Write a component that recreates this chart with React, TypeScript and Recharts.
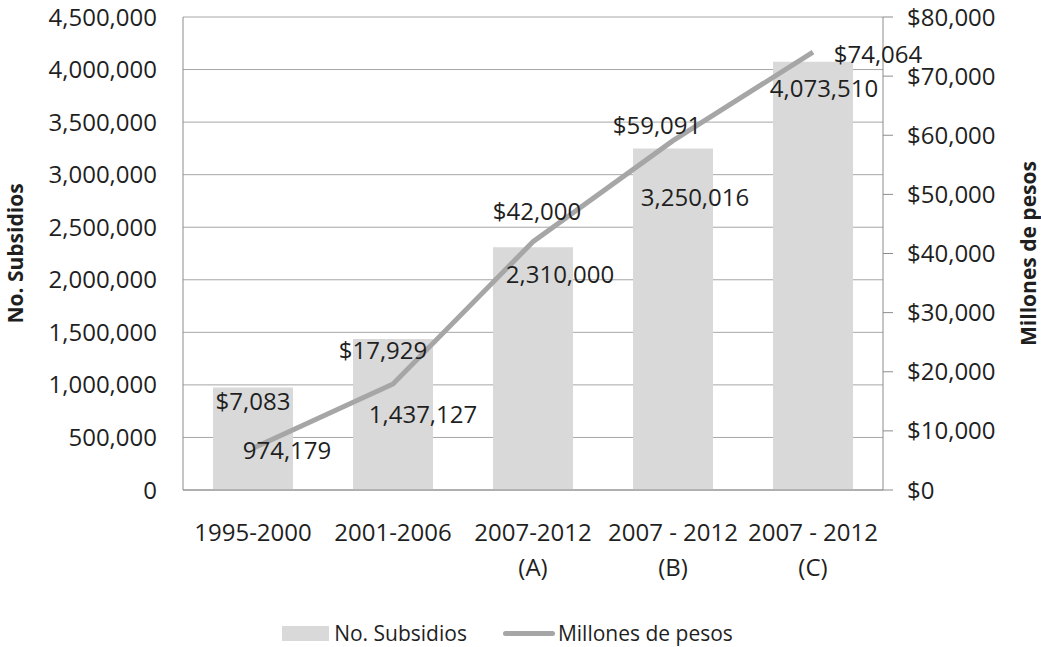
import React from "react";
import { ComposedChart, Bar, Line, XAxis, YAxis, CartesianGrid, Legend, LabelList } from "recharts";

const CATEGORIES = ["1995-2000", "2001-2006", "2007-2012\n(A)", "2007 - 2012\n(B)", "2007 - 2012\n(C)"];
const SUBSIDIOS = [974179, 1437127, 2310000, 3250016, 4073510];
const MILLONES = [7083, 17929, 42000, 59091, 74064];
const LEFT_TICKS = [0, 500000, 1000000, 1500000, 2000000, 2500000, 3000000, 3500000, 4000000, 4500000];
const RIGHT_TICKS = [0, 10000, 20000, 30000, 40000, 50000, 60000, 70000, 80000];

// manual label nudges, as placed in the original
const BAR_LABEL_NUDGE = [[34, 62], [30, 75], [27, 26], [22, 48], [11, 26]];
const LINE_LABEL_NUDGE = [[0, -48], [-10, -34], [4, -31], [-16, -16], [65, 1]];

const FONT = "'Open Sans', sans-serif";
const TEXT = "#1f1f1f";
const BAR_COLOR = "#d9d9d9";
const LINE_COLOR = "#a6a6a6";
const AXIS_COLOR = "#8c8c8c";

const data = CATEGORIES.map((c, i) => ({ name: c, subsidios: SUBSIDIOS[i], millones: MILLONES[i] }));

const fmt = (v: number) => v.toLocaleString("en-US");

function CategoryTick({ x, y, payload }: any) {
  const lines = String(payload.value).split("\n");
  return (
    <text x={x} y={y} textAnchor="middle" fill={TEXT} fontFamily={FONT} fontSize={24}>
      {lines.map((l, i) => (
        <tspan key={i} x={x} dy={i === 0 ? 43 : 35}>
          {l}
        </tspan>
      ))}
    </text>
  );
}

function BarValue(props: any) {
  const { x, y, width, value } = props;
  const i = props.index ?? SUBSIDIOS.indexOf(value);
  const [dx, dy] = BAR_LABEL_NUDGE[i] || [0, 20];
  return (
    <text x={x + width / 2 + dx} y={y + dy} textAnchor="middle" dominantBaseline="central" fill={TEXT} fontFamily={FONT} fontSize={24}>
      {fmt(value)}
    </text>
  );
}

function LineValue(props: any) {
  const { x, y, value } = props;
  const i = props.index ?? MILLONES.indexOf(value);
  const [dx, dy] = LINE_LABEL_NUDGE[i] || [0, -20];
  return (
    <text x={x + dx} y={y + dy} textAnchor="middle" dominantBaseline="central" fill={TEXT} fontFamily={FONT} fontSize={24}>
      ${fmt(value)}
    </text>
  );
}

const leftTitle = (props: any) => {
  const vb = props.viewBox;
  const cy = vb.y + vb.height / 2;
  return (
    <text x={15} y={cy} transform={`rotate(-90 15 ${cy})`} textAnchor="middle" dominantBaseline="central" fill={TEXT} fontFamily={FONT} fontWeight="bold" fontSize={21}>
      No. Subsidios
    </text>
  );
};

const rightTitle = (props: any) => {
  const vb = props.viewBox;
  const cy = vb.y + vb.height / 2;
  return (
    <text x={1028} y={cy} transform={`rotate(-90 1028 ${cy})`} textAnchor="middle" dominantBaseline="central" fill={TEXT} fontFamily={FONT} fontWeight="bold" fontSize={21}>
      Millones de pesos
    </text>
  );
};

function LegendBox() {
  return (
    <div style={{ display: "flex", justifyContent: "center", alignItems: "center", paddingTop: 22, paddingRight: 26, fontFamily: FONT, fontSize: 21, color: TEXT }}>
      <span style={{ display: "inline-block", width: 47, height: 15, background: BAR_COLOR, marginRight: 5 }} />
      <span style={{ marginRight: 36 }}>No. Subsidios</span>
      <span style={{ display: "inline-block", width: 52, height: 5, background: LINE_COLOR, borderRadius: 3, marginRight: 3 }} />
      <span>Millones de pesos</span>
    </div>
  );
}

export default function App() {
  return (
    <div style={{ position: "absolute", left: 0, top: 0, background: "#fff" }}>
      <ComposedChart width={1041} height={647} data={data} margin={{ top: 17, right: 0, bottom: 0, left: 0 }}>
        <CartesianGrid yAxisId="left" vertical={false} stroke={LINE_COLOR} />
        <XAxis
          dataKey="name"
          height={107}
          tickLine={false}
          axisLine={{ stroke: AXIS_COLOR }}
          interval={0}
          tick={<CategoryTick />}
        />
        <YAxis
          yAxisId="left"
          width={183}
          domain={[0, 4500000]}
          ticks={LEFT_TICKS}
          tickLine={false}
          tickSize={6}
          tickMargin={20}
          axisLine={{ stroke: AXIS_COLOR }}
          tickFormatter={fmt}
          tick={{ fill: TEXT, fontFamily: FONT, fontSize: 24 }}
          label={leftTitle}
        />
        <YAxis
          yAxisId="right"
          orientation="right"
          width={158}
          domain={[0, 80000]}
          ticks={RIGHT_TICKS}
          tickSize={10}
          tickMargin={14}
          tickLine={{ stroke: AXIS_COLOR }}
          axisLine={{ stroke: AXIS_COLOR }}
          tickFormatter={(v: number) => "$" + fmt(v)}
          tick={{ fill: TEXT, fontFamily: FONT, fontSize: 24, textAnchor: "start" }}
          label={rightTitle}
        />
        <Legend verticalAlign="bottom" height={50} content={() => <LegendBox />} />
        <Bar yAxisId="left" dataKey="subsidios" name="No. Subsidios" fill={BAR_COLOR} barSize={80} isAnimationActive={false}>
          <LabelList dataKey="subsidios" content={<BarValue />} />
        </Bar>
        <Line
          yAxisId="right"
          dataKey="millones"
          name="Millones de pesos"
          type="linear"
          stroke={LINE_COLOR}
          strokeWidth={5}
          dot={false}
          isAnimationActive={false}
        >
          <LabelList dataKey="millones" content={<LineValue />} />
        </Line>
      </ComposedChart>
    </div>
  );
}
